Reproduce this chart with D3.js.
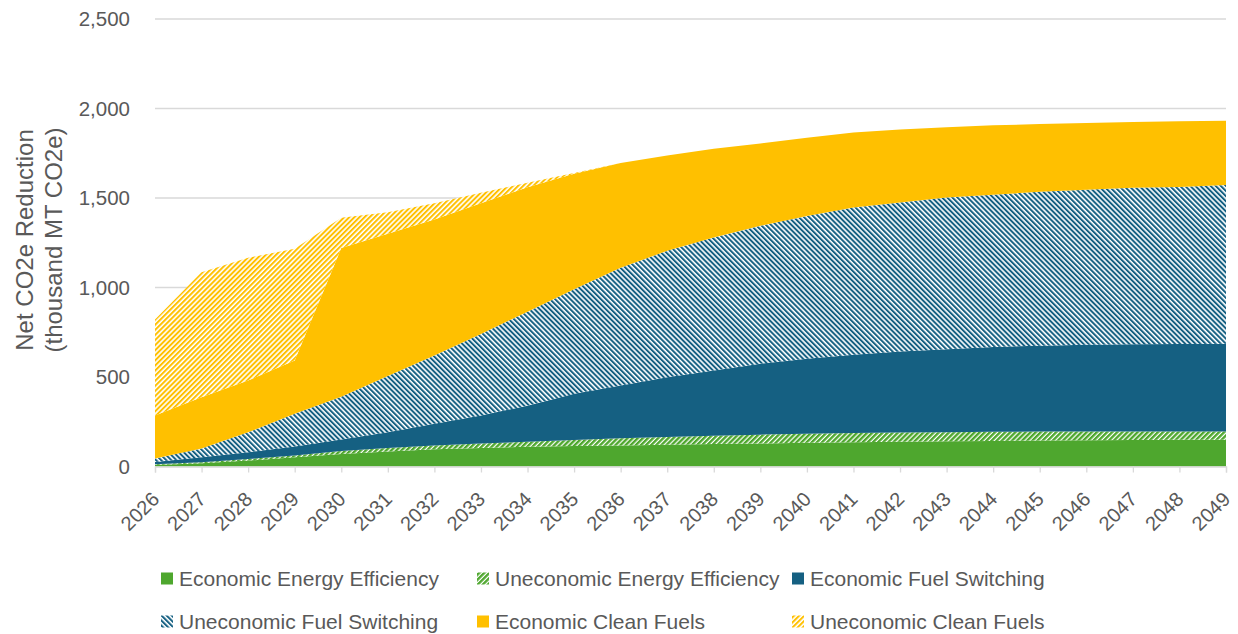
<!DOCTYPE html>
<html>
<head>
<meta charset="utf-8">
<script src="https://cdn.jsdelivr.net/npm/d3@7"></script>
<style>
  body { margin: 0; background: #fff; }
  svg { display: block; font-family: "Liberation Sans", Arial, sans-serif; }
  .tick-label { fill: #595959; font-size: 20.5px; }
  .x-label { fill: #595959; font-size: 20px; }
  .axis-title { fill: #595959; font-size: 24px; }
  .legend-text { fill: #595959; font-size: 21px; }
</style>
</head>
<body>
<svg width="1238" height="634"></svg>
<script>
// categories
const years = [2026, 2027, 2028, 2029, 2030, 2031, 2032, 2033, 2034, 2035, 2036, 2037,
               2038, 2039, 2040, 2041, 2042, 2043, 2044, 2045, 2046, 2047, 2048, 2049];

// series values (thousand MT CO2e), bottom to top of the stack
const econEE   = [8, 18, 33, 52, 70, 84, 96, 104, 110, 114, 118, 122, 126, 129, 132, 135, 138, 141, 143, 145, 147, 148, 149, 150];
const unecoEE  = [4, 6, 9, 10, 16, 20, 22, 24, 28, 34, 40, 43, 46, 49, 51, 52, 52, 51, 51, 50, 48, 48, 47, 46];
const econFS   = [13, 28, 38, 50, 65, 87, 121, 157, 202, 259, 294, 333, 364, 396, 419, 438, 453, 463, 474, 480, 485, 487, 489, 490];
const unecoFS  = [20, 48, 111, 183, 239, 314, 381, 455, 525, 583, 658, 707, 744, 771, 798, 822, 832, 848, 850, 860, 866, 874, 877, 886];
const econCF   = [240, 287, 289, 297, 830, 795, 760, 730, 695, 645, 586, 533, 495, 460, 436, 419, 408, 392, 388, 378, 373, 367, 367, 360];
const unecoCF  = [536, 698, 686, 625, 170, 120, 90, 60, 25, 5, 0, 0, 0, 0, 0, 0, 0, 0, 0, 0, 0, 0, 0, 0];

const seriesNames = ['Economic Energy Efficiency', 'Uneconomic Energy Efficiency', 'Economic Fuel Switching',
                     'Uneconomic Fuel Switching', 'Economic Clean Fuels', 'Uneconomic Clean Fuels'];
const seriesValues = [econEE, unecoEE, econFS, unecoFS, econCF, unecoCF];

// y ticks
const yTicks = [0, 500, 1000, 1500, 2000, 2500];

const green = '#4ea72e', blue = '#156082', yellow = '#ffc000';
const styles = [
    {color: green, hatch: false, angle: 45},
    {color: green, hatch: true, angle: 45},
    {color: blue, hatch: false, angle: -45},
    {color: blue, hatch: true, angle: -45},
    {color: yellow, hatch: false, angle: 45},
    {color: yellow, hatch: true, angle: 45}
];

const table = years.map((year, i) => {
    const row = {year};
    seriesNames.forEach((name, k) => row[name] = seriesValues[k][i]);
    return row;
});

const svg = d3.select('svg');

const x = d3.scaleLinear()
    .domain([years[0], years[years.length - 1]])
    .range([155, 1226]);

const y = d3.scaleLinear()
    .domain([0, 2500])
    .range([466.5, 19]);

// hatch patterns
const defs = svg.append('defs');
styles.forEach((s, k) => {
    if (!s.hatch) return;
    const p = defs.append('pattern')
        .attr('id', 'hatch' + k)
        .attr('patternUnits', 'userSpaceOnUse')
        .attr('width', 3.6)
        .attr('height', 3.6)
        .attr('patternTransform', `rotate(${s.angle})`);
    p.append('rect').attr('width', 3.6).attr('height', 3.6).attr('fill', '#fff');
    p.append('rect').attr('width', k === 1 ? 2.4 : 2.0).attr('height', 3.6).attr('fill', s.color);
});
const fillOf = k => styles[k].hatch ? `url(#hatch${k})` : styles[k].color;

// gridlines
svg.append('g')
    .selectAll('line').data(yTicks.filter(d => d > 0))
    .enter().append('line')
        .attr('x1', x.range()[0]).attr('x2', x.range()[1])
        .attr('y1', d => y(d)).attr('y2', d => y(d))
        .attr('stroke', '#d9d9d9')
        .attr('stroke-width', 1.3);

// stacked areas
const stack = d3.stack().keys(seriesNames);
const area = d3.area()
    .x(d => x(d.data.year))
    .y0(d => y(d[0]))
    .y1(d => y(d[1]));

svg.append('g')
    .selectAll('path').data(stack(table))
    .enter().append('path')
        .attr('d', area)
        .attr('fill', (d, k) => fillOf(k));

// x axis
const xAxis = d3.axisBottom(x)
    .tickValues(years)
    .tickFormat(d3.format('d'))
    .tickSize(6);

const xg = svg.append('g')
    .attr('transform', `translate(0, ${y(0)})`)
    .call(xAxis);
xg.select('.domain').attr('stroke', '#d9d9d9').attr('stroke-width', 1.3);
xg.selectAll('.tick line').attr('stroke', '#d9d9d9').attr('stroke-width', 1.3);
xg.selectAll('.tick text')
    .attr('class', 'x-label')
    .attr('text-anchor', 'end')
    .attr('dy', 0)
    .attr('y', 0)
    .attr('transform', 'translate(5, 34) rotate(-45)');

// y tick labels
svg.append('g')
    .selectAll('text').data(yTicks)
    .enter().append('text')
        .attr('class', 'tick-label')
        .attr('x', 130)
        .attr('y', d => y(d))
        .attr('dy', '0.35em')
        .attr('text-anchor', 'end')
        .text(d3.format(','));

// y axis title
svg.append('text')
    .attr('class', 'axis-title')
    .attr('transform', `translate(33, 240) rotate(-90)`)
    .attr('text-anchor', 'middle')
    .text('Net CO2e Reduction');
svg.append('text')
    .attr('class', 'axis-title')
    .attr('transform', `translate(62, 240) rotate(-90)`)
    .attr('text-anchor', 'middle')
    .text('(thousand MT CO2e)');

// legend
const legendPos = [[161, 578.5], [477, 578.5], [792, 578.5], [161, 621.5], [477, 621.5], [792, 621.5]];
const legendG = svg.append('g')
    .selectAll('g').data(seriesNames)
    .enter().append('g')
        .attr('transform', (d, k) => `translate(${legendPos[k][0]}, ${legendPos[k][1]})`);

legendG.append('rect')
    .attr('x', 0).attr('y', -6)
    .attr('width', 12).attr('height', 12)
    .attr('fill', (d, k) => fillOf(k));

legendG.append('text')
    .attr('class', 'legend-text')
    .attr('x', 18)
    .attr('dy', '0.35em')
    .text(d => d);
</script>
</body>
</html>
